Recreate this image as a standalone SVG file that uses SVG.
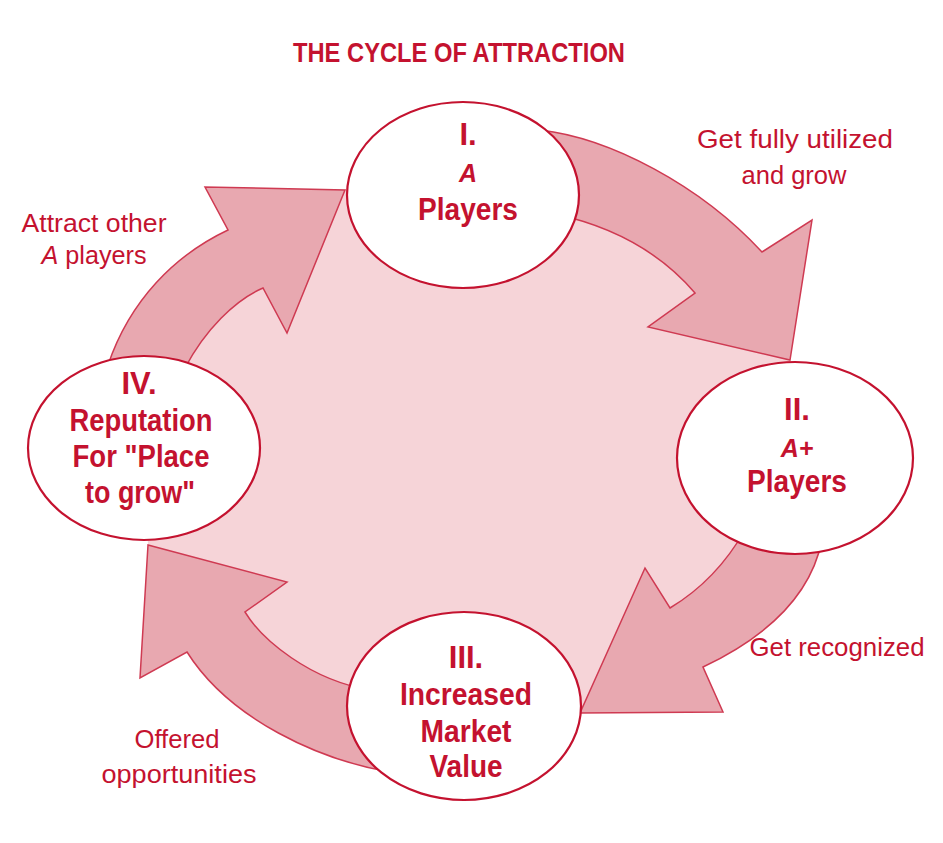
<svg xmlns="http://www.w3.org/2000/svg" width="943" height="843" viewBox="0 0 943 843">
<style>
.bg{fill:#ffffff}
.inner{fill:#f6d4d8;stroke:none}
.arrow{fill:#e8a8b0;stroke:#cf3a52;stroke-width:1.5;stroke-linejoin:miter}
.node{fill:#ffffff;stroke:#c4122f;stroke-width:2.2}
.t{font-family:"Liberation Sans",Arial,sans-serif;fill:#c4122f;text-anchor:middle}
.title{font-size:27px;font-weight:bold}
.nl{font-size:31px;font-weight:bold}
.ni{font-size:25px;font-weight:bold;font-style:italic}
.lb{font-size:25px}
.it{font-style:italic}
</style>
<rect class="bg" x="0" y="0" width="943" height="843"/>
<text class="t title" x="459" y="62" textLength="332" lengthAdjust="spacingAndGlyphs">THE CYCLE OF ATTRACTION</text>
<path class="inner" d="M463,195 L570,205 L640,215 L700,262 L740,300 L790,360 L795,458 L740,560 L640,680 L580,713 L464,706 L330,700 L190,620 L148,545 L144,448 L200,320 L280,240 L345,190 Z"/>
<g id="connectors">
<path class="arrow" d="M540,130 C610,138 700,185 762,252 L812,220 L790,360 L648,327 L695,293 C665,258 620,228 555,214 Z"/>
<path class="arrow" d="M822,540 C810,600 760,640 703,667 L723,712 L580,713 L645,568 L670,608 C700,590 725,565 745,530 Z"/>
<path class="arrow" d="M390,772 C320,760 230,720 187,652 L140,678 L148,545 L287,582 L245,612 C262,640 310,680 370,690 Z"/>
<path class="arrow" d="M108,365 C130,300 175,255 228,230 L205,187 L345,190 L287,333 L263,288 C235,300 205,330 185,368 Z"/>
</g>
<g id="node1">
<ellipse class="node" cx="463" cy="195" rx="116" ry="93"/>
<text class="t nl" x="468" y="145">I.</text>
<text class="t ni" x="468" y="182">A</text>
<text class="t nl" x="468" y="220" textLength="100" lengthAdjust="spacingAndGlyphs">Players</text>
</g>
<g id="node2">
<ellipse class="node" cx="795" cy="458" rx="118" ry="96"/>
<text class="t nl" x="797" y="420">II.</text>
<text class="t ni" x="797" y="457">A+</text>
<text class="t nl" x="797" y="492" textLength="100" lengthAdjust="spacingAndGlyphs">Players</text>
</g>
<g id="node3">
<ellipse class="node" cx="464" cy="706" rx="117" ry="94"/>
<text class="t nl" x="466" y="668">III.</text>
<text class="t nl" x="466" y="705" textLength="132" lengthAdjust="spacingAndGlyphs">Increased</text>
<text class="t nl" x="466" y="742" textLength="91" lengthAdjust="spacingAndGlyphs">Market</text>
<text class="t nl" x="466" y="777" textLength="73" lengthAdjust="spacingAndGlyphs">Value</text>
</g>
<g id="node4">
<ellipse class="node" cx="144" cy="448" rx="116" ry="92"/>
<text class="t nl" x="139" y="394">IV.</text>
<text class="t nl" x="141" y="431" textLength="143" lengthAdjust="spacingAndGlyphs">Reputation</text>
<text class="t nl" x="141" y="467" textLength="137" lengthAdjust="spacingAndGlyphs">For "Place</text>
<text class="t nl" x="140" y="503" textLength="110" lengthAdjust="spacingAndGlyphs">to grow"</text>
</g>
<g id="labels">
<text class="t lb" x="795" y="148" textLength="196" lengthAdjust="spacingAndGlyphs">Get fully utilized</text>
<text class="t lb" x="794" y="184" textLength="105" lengthAdjust="spacingAndGlyphs">and grow</text>
<text class="t lb" x="837" y="656" textLength="175" lengthAdjust="spacingAndGlyphs">Get recognized</text>
<text class="t lb" x="177" y="748" textLength="85" lengthAdjust="spacingAndGlyphs">Offered</text>
<text class="t lb" x="179" y="783" textLength="155" lengthAdjust="spacingAndGlyphs">opportunities</text>
<text class="t lb" x="94" y="232" textLength="145" lengthAdjust="spacingAndGlyphs">Attract other</text>
<text class="t lb" x="94" y="264" textLength="105" lengthAdjust="spacingAndGlyphs"><tspan class="it">A</tspan> players</text>
</g>
</svg>
